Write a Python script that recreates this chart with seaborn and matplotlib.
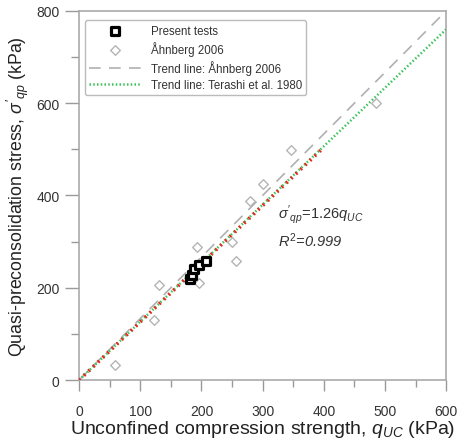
import matplotlib
matplotlib.use("Agg")
import matplotlib.pyplot as plt
import seaborn as sns
import pandas as pd
from matplotlib.ticker import MultipleLocator

# Present tests (squares)
present_q = [182, 184, 188, 196, 207]
present_s = [220, 228, 240, 250, 258]

# Ahnberg 2006 (diamonds)
ahn_q = [59, 123, 130, 196, 192, 250, 256, 280, 300, 347, 485]
ahn_s = [32, 131, 205, 210, 288, 300, 257, 388, 425, 498, 600]

# trend lines (end points)
ahn_line_q = [0, 600]
ahn_line_s = [0, 800]
ter_line_q = [0, 600]
ter_line_s = [0, 760]
fit_line_q = [0, 395]
fit_line_s = [0, 498]

sns.set_theme(style="white")
plt.rcParams['font.family'] = ['Liberation Sans', 'DejaVu Sans']
plt.rcParams['mathtext.fontset'] = 'custom'
plt.rcParams['mathtext.it'] = 'Liberation Sans:italic'
plt.rcParams['mathtext.rm'] = 'Liberation Sans'

fig, ax = plt.subplots(figsize=(4.6, 4.39), dpi=100)
fig.subplots_adjust(left=0.172, right=0.970, bottom=0.132, top=0.973)

sns.lineplot(x=ahn_line_q, y=ahn_line_s, ax=ax, color="#b0b0b0", lw=1.2,
             dashes=False, linestyle=(0, (7, 5)), label="Trend line: Åhnberg 2006", zorder=2)
sns.lineplot(x=ter_line_q, y=ter_line_s, ax=ax, color="#3cc35a", lw=1.8,
             linestyle=(0, (0.6, 0.9)), label="Trend line: Terashi et al. 1980", zorder=3)
sns.lineplot(x=fit_line_q, y=fit_line_s, ax=ax, color="#e8261c", lw=2.6,
             linestyle=(0, (0.5, 1.3)), legend=False, zorder=4)

sns.scatterplot(x=ahn_q, y=ahn_s, ax=ax, marker="D", s=24, facecolor="white",
                edgecolor="#b5b5b5", linewidth=1.0, label="Åhnberg 2006", zorder=5)
sns.scatterplot(x=present_q, y=present_s, ax=ax, marker="s", s=40, facecolor="white",
                edgecolor="black", linewidth=2.3, label="Present tests", zorder=6)

ax.set_xlim(0, 600)
ax.set_ylim(0, 800)
ax.xaxis.set_major_locator(MultipleLocator(100))
ax.xaxis.set_minor_locator(MultipleLocator(50))
ax.yaxis.set_major_locator(MultipleLocator(200))
ax.yaxis.set_minor_locator(MultipleLocator(100))
ax.tick_params(which="both", direction="out", color="#999999", labelcolor="#333333",
               labelsize=10, bottom=True, left=True)
ax.tick_params(axis="y", which="major", length=10, width=1, pad=4)
ax.tick_params(axis="y", which="minor", length=6, width=1)
ax.tick_params(axis="x", which="major", length=8, width=1, pad=9)
ax.tick_params(axis="x", which="minor", length=5, width=1)
for sp in ax.spines.values():
    sp.set_color("#aaaaaa")
    sp.set_linewidth(1.2)

ax.set_xlabel("Unconfined compression strength, $q_{UC}$ (kPa)", fontsize=14,
              color="#222222", labelpad=0)
ax.set_ylabel("Quasi-preconsolidation stress, $\\sigma'_{qp}$ (kPa)", fontsize=12.8,
              color="#222222", labelpad=4)

ax.text(325, 352, "$\\sigma'_{qp}$=1.26$q_{UC}$", fontsize=10.5, color="#333333")
ax.text(325, 290, "$R^2$=0.999", fontsize=10.5, color="#333333", style="italic")

h, l = ax.get_legend_handles_labels()
order = [l.index("Present tests"), l.index("Åhnberg 2006"),
         l.index("Trend line: Åhnberg 2006"), l.index("Trend line: Terashi et al. 1980")]
leg = ax.legend([h[i] for i in order], [l[i] for i in order], loc="upper left",
                fontsize=8.3, frameon=True, fancybox=True, handlelength=4.5,
                borderpad=0.4, labelspacing=0.35, bbox_to_anchor=(0.0, 0.99))
leg.get_frame().set_edgecolor("#aaaaaa")
leg.get_frame().set_linewidth(1.0)
for t in leg.get_texts():
    t.set_color("#333333")

fig.savefig("out.png", dpi=100)
